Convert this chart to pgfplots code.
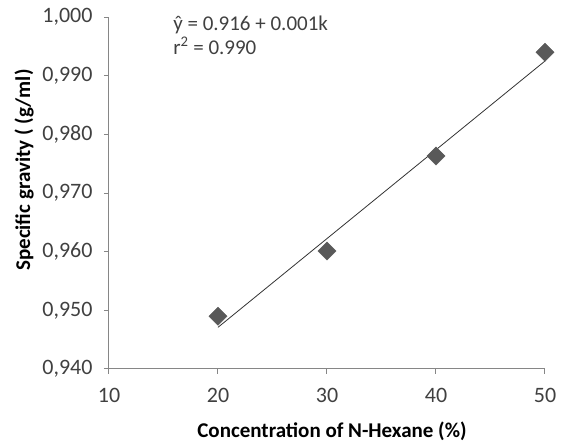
\documentclass[border=0pt]{standalone}
\usepackage{pgfplots}
\pgfplotsset{compat=1.18}
\usepackage{fontspec}
\setmainfont{Carlito}
\definecolor{axgray}{RGB}{134,134,134}
\definecolor{txtgray}{RGB}{64,64,64}
\definecolor{mkgray}{RGB}{89,89,89}
\begin{document}
\begin{tikzpicture}
\begin{axis}[
  scale only axis,
  width=436pt, height=352pt,
  xmin=10, xmax=50, ymin=0.94, ymax=1.0,
  xtick={10,20,30,40,50},
  ytick={0.94,0.95,0.96,0.97,0.98,0.99,1.0},
  axis x line*=bottom, axis y line*=left,
  axis line style={axgray, line width=1pt},
  tick style={axgray, line width=1pt},
  tick align=outside, major tick length=5pt,
  tick label style={txtgray, font=\fontsize{22}{24}\selectfont},
  /pgf/number format/assume math mode=true,
  yticklabel style={xshift=-8pt, /pgf/number format/.cd, fixed, fixed zerofill, precision=3, use comma},
  xticklabel style={yshift=-11pt},
  scaled y ticks=false,
  xlabel={\bfseries Concentration of N-Hexane (\%)},
  ylabel={\bfseries Specific gravity ( (g/ml)},
  label style={font=\fontsize{21}{24}\selectfont},
  xlabel style={black, at={(axis description cs:0.5,0)}, anchor=base, yshift=-69pt, xshift=5pt},
  ylabel style={black, at={(axis description cs:0,0.565)}, anchor=center, yshift=85pt},
  clip=false,
]
\addplot[black!80, line width=0.8pt] coordinates {(20,0.9471) (50,0.9925)};
\addplot[only marks, mark=square*, mark size=6.4pt, mark options={rotate=45, fill=mkgray, draw=mkgray}] coordinates {
(20,0.9490) (30,0.9601) (40,0.9763) (50,0.9940)};
\node[anchor=base west, inner sep=0pt, font=\fontsize{21}{24}\selectfont, text=txtgray, yshift=-13pt] at (rel axis cs:0.147,1.0) {ŷ = 0.916 + 0.001k};
\node[anchor=base west, inner sep=0pt, font=\fontsize{21}{24}\selectfont, text=txtgray, yshift=-37pt] at (rel axis cs:0.147,1.0) {r\textsuperscript{2} = 0.990};
\end{axis}
\path (-109pt,-74pt) rectangle (457pt,369pt);
\end{tikzpicture}
\end{document}
